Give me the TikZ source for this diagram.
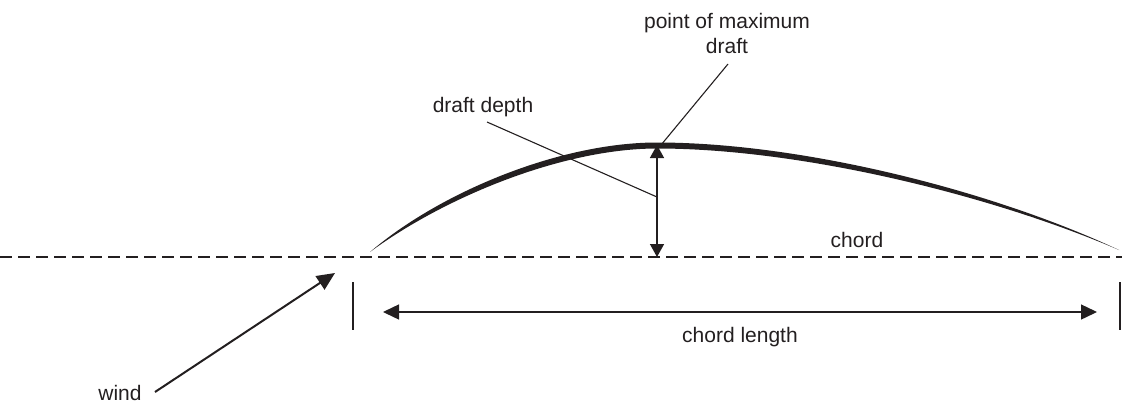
\documentclass[tikz,border=0pt]{standalone}
\usepackage{fontspec}
\setmainfont{Liberation Sans}
\usetikzlibrary{arrows.meta}
\definecolor{ink}{HTML}{231F20}
\begin{document}
\begin{tikzpicture}[x=1pt,y=-1pt,
  lbl/.style={font=\fontsize{21}{25}\selectfont, text=ink, inner sep=0pt, align=center},
  leader/.style={draw=ink, line width=1.1pt},
  dimarrow/.style={draw=ink, line width=1.4pt, {Triangle[length=13pt,width=14pt]}-{Triangle[length=13pt,width=14pt]}},
  widearrow/.style={draw=ink, line width=1.4pt, {Triangle[length=16pt,width=15pt]}-{Triangle[length=16pt,width=15pt]}},
  tick/.style={draw=ink, line width=1.8pt},
  chordline/.style={draw=ink, line width=1.3pt, dash pattern=on 12pt off 6pt}]
\useasboundingbox (0,0) rectangle (1122,405);

% chord line
\coordinate (cl) at (0,257);
\coordinate (cr) at (1122,257);
\draw[chordline] (cl) -- (cr);

% sail section, tapered at both ends
\fill[ink] (370,252) .. controls (440,192) and (560,142.5) .. (657,142.5)
  .. controls (800,142.5) and (990,189.5) .. (1119,250)
  .. controls (990,194.5) and (800,148.5) .. (657,148.5)
  .. controls (562,148.5) and (444,197.5) .. (370,252) -- cycle;

% draft depth
\coordinate (peak) at (657,145);
\coordinate (foot) at (657,257);
\coordinate (mid) at (657,197);
\draw[dimarrow] (peak) -- (foot);

% labels
\node[lbl] (pmd) at (727,33) {point of maximum\\draft};
\node[lbl] (dd) at (483,107) {draft depth};
\node[lbl] (chord) at (857,240) {chord};
\node[lbl] (cln) at (740,337) {chord length};
\node[lbl] (wind) at (120,393) {wind};

% leader lines
\coordinate (pmdA) at (728,64);
\coordinate (pmdB) at (661,145);
\draw[leader] (pmdA) -- (pmdB);
\coordinate (ddA) at (487,122);
\draw[leader] (ddA) -- (mid);

% chord length with end ticks
\coordinate (tl1) at (353,282);
\coordinate (tl2) at (353,330);
\coordinate (tr1) at (1120,282);
\coordinate (tr2) at (1120,330);
\draw[tick] (tl1) -- (tl2);
\draw[tick] (tr1) -- (tr2);
\coordinate (al) at (383,312);
\coordinate (ar) at (1097,312);
\draw[widearrow] (al) -- (ar);

% wind direction
\coordinate (w0) at (155,392);
\coordinate (w1) at (335,273);
\draw[draw=ink, line width=2pt, -{Triangle[length=18pt,width=16pt]}] (w0) -- (w1);
\end{tikzpicture}
\end{document}
